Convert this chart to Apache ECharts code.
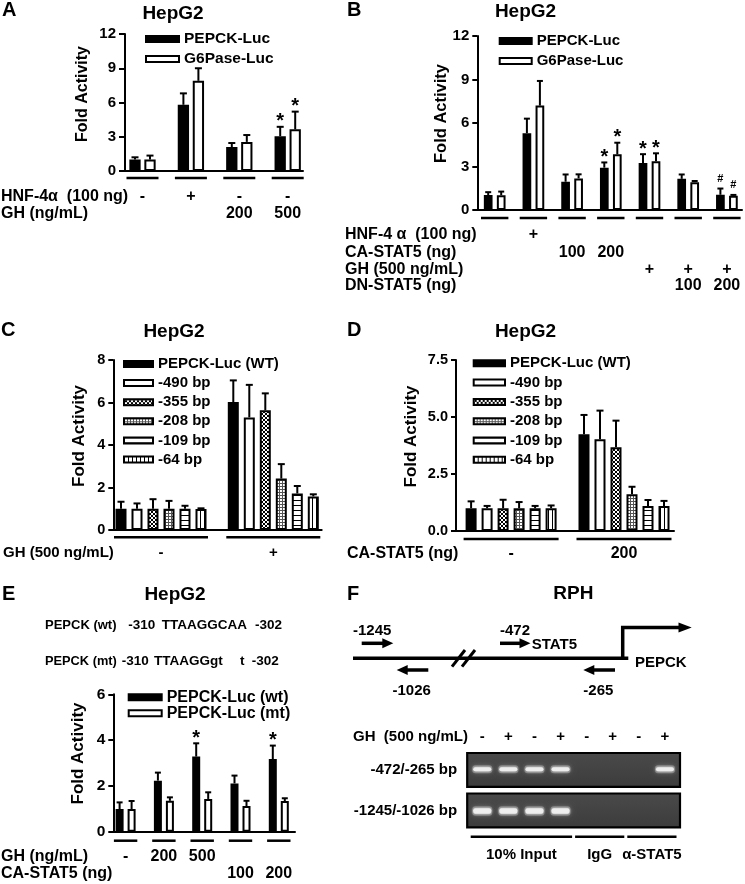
<!DOCTYPE html>
<html>
<head>
<meta charset="utf-8">
<title>PEPCK / STAT5 figure</title>
<script src="https://cdn.jsdelivr.net/npm/echarts@6.0.0/dist/echarts.min.js"></script>
<style>
html,body{margin:0;padding:0;background:#fff;}
#chart{width:745px;height:884px;}
</style>
</head>
<body>
<div id="chart"></div>
<script>
// ======================= DATA =======================
// ---- Panel A ----
const aTicks = [0, 3, 6, 9, 12];
const aPepck = [1.0, 5.8, 2.1, 3.05];
const aPepckErr = [0.2, 1.0, 0.35, 0.82];
const aPepckSig = ['', '', '', '*'];
const aG6pase = [1.0, 7.9, 2.55, 3.65];
const aG6paseErr = [0.35, 1.1, 0.6, 1.55];
const aG6paseSig = ['', '', '', '*'];
const aRowTitles = ['HNF-4α  (100 ng)', 'GH (ng/mL)'];
const aRowHnf = ['-', '+', '-', '-'];
const aRowGh = ['', '', '200', '500'];

// ---- Panel B ----
const bTicks = [0, 3, 6, 9, 12];
const bPepck = [1.03, 5.3, 1.95, 2.92, 3.25, 2.15, 1.05];
const bPepckErr = [0.2, 1.0, 0.5, 0.36, 0.6, 0.3, 0.43];
const bPepckSig = ['', '', '', '*', '*', '', '#'];
const bG6pase = [1.02, 7.2, 2.18, 3.84, 3.36, 1.92, 0.99];
const bG6paseErr = [0.25, 1.7, 0.28, 0.8, 0.55, 0.08, 0.05];
const bG6paseSig = ['', '', '', '*', '*', '', '#'];
const bRowTitles = ['HNF-4 α  (100 ng)', 'CA-STAT5 (ng)', 'GH (500 ng/mL)', 'DN-STAT5 (ng)'];
const bRowHnf = ['', '+', '', '', '', '', ''];
const bRowCa = ['', '', '100', '200', '', '', ''];
const bRowGh = ['', '', '', '', '+', '+', '+'];
const bRowDn = ['', '', '', '', '', '100', '200'];

// ---- Panels C / D : promoter deletion constructs ----
const promoterNames = ['PEPCK-Luc (WT)', '-490 bp', '-355 bp', '-208 bp', '-109 bp', '-64 bp'];
// Panel C (GH -, GH +)
const cTicks = [0, 2, 4, 6, 8];
const cWT = [1.0, 6.02],   cWTErr = [0.33, 1.02];
const c490 = [1.0, 5.3],   c490Err = [0.25, 1.53];
const c355 = [1.0, 5.63],  c355Err = [0.45, 0.8];
const c208 = [1.0, 2.42],  c208Err = [0.37, 0.68];
const c109 = [1.0, 1.72],  c109Err = [0.14, 0.35];
const c64 = [0.99, 1.58],  c64Err = [0.03, 0.1];
const cRowTitles = ['GH (500 ng/mL)'];
const cRowGh = ['-', '+'];
// Panel D (CA-STAT5 -, 200)
const dTicks = [0, 2.5, 5, 7.5];
const dTickLabels = ['0.0', '2.5', '5.0', '7.5'];
const dWT = [1.0, 4.24],   dWTErr = [0.3, 0.85];
const d490 = [1.0, 4.02],  d490Err = [0.1, 1.26];
const d355 = [1.0, 3.67],  d355Err = [0.37, 1.17];
const d208 = [1.0, 1.61],  d208Err = [0.27, 0.33];
const d109 = [1.0, 1.1],   d109Err = [0.1, 0.26];
const d64 = [1.0, 1.1],    d64Err = [0.12, 0.22];
const dRowTitles = ['CA-STAT5 (ng)'];
const dRowCa = ['-', '200'];

// ---- Panel E ----
const eTicks = [0, 2, 4, 6];
const eWt = [0.99, 2.23, 3.28, 2.11, 3.17];
const eWtErr = [0.29, 0.35, 0.58, 0.34, 0.59];
const eWtSig = ['', '', '*', '', '*'];
const eMt = [0.99, 1.35, 1.43, 1.12, 1.34];
const eMtErr = [0.35, 0.15, 0.29, 0.23, 0.12];
const eMtSig = ['', '', '', '', ''];
const eRowTitles = ['GH (ng/mL)', 'CA-STAT5 (ng)'];
const eRowGh = ['-', '200', '500', '', ''];
const eRowCa = ['', '', '', '100', '200'];
const eSeqWt = ['PEPCK (wt)', '-310', 'TTAAGGCAA', '-302'];
const eSeqMt = ['PEPCK (mt)', '-310', 'TTAAGGgt', 't', '-302'];

// ---- Panel F (ChIP, RPH) ----
const gelLanes = ['L1', 'L2', 'L3', 'L4', 'L5', 'L6', 'L7', 'L8'];
const gelGh = ['-', '+', '-', '+', '-', '+', '-', '+'];
const gelRows = ['-472/-265 bp', '-1245/-1026 bp'];
const gelBand472 = [1, 1, 1, 1, 0, 0, 0, 1];
const gelBand1245 = [1, 1, 1, 1, 0, 0, 0, 0];
const gelGroups = ['10% Input', 'IgG', 'α-STAT5'];
const gelGroupLanes = [[0, 3], [4, 5], [6, 7]];
const fPrimers = ['-1245', '-1026', '-472', '-265'];

// ======================= STYLE HELPERS =======================
const FF = '"Liberation Sans", Arial, Helvetica, sans-serif';
function font(size) { return 'bold ' + size + 'px ' + FF; }
function pat(w, h, draw) {
  const c = document.createElement('canvas');
  c.width = w; c.height = h;
  const g = c.getContext('2d');
  g.fillStyle = '#fff'; g.fillRect(0, 0, w, h);
  g.fillStyle = '#000';
  draw(g);
  return { image: c, repeat: 'repeat' };
}
const patCheck = pat(4, 4, g => { for (let i = 0; i < 4; i++) { g.fillRect(i, i, 1, 1); g.fillRect(3 - i, i, 1, 1); } });
const patGrid = pat(3, 3, g => { g.fillStyle = '#555'; g.fillRect(0, 0, 3, 1); g.fillRect(0, 0, 1, 3); });
const patH = pat(4, 5, g => { g.fillRect(0, 0, 4, 1); });
const patV = pat(4, 4, g => { g.fillRect(0, 0, 1, 4); });
const promoterFills = ['#000', '#fff', patCheck, patGrid, patH, patV];
const sixOffsets = [-40, -24, -8, 8, 24, 40];

const option = {
  animation: false,
  backgroundColor: '#fff',
  grid: [], xAxis: [], yAxis: [], series: [], legend: [],
  graphic: { elements: [] }
};

function txt(text, x, y, size, align, vAlign) {
  return { type: 'text', x: x, y: y, silent: true, z: 10,
    style: { text: text, font: font(size), fill: '#000', align: align || 'left', verticalAlign: vAlign || 'middle' } };
}

function addBarPanel(P) {
  const k = option.grid.length;
  option.grid.push({ left: P.x0, top: P.yTop, width: P.x1 - P.x0, height: P.y0 - P.yTop, containLabel: false, outerBoundsMode: 'none' });
  option.xAxis.push({
    gridIndex: k, type: 'value', min: (P.x0 - P.c0) / P.pitch, max: (P.x1 - P.c0) / P.pitch,
    axisLine: { show: true, onZero: false, lineStyle: { color: '#000', width: 2 } },
    axisTick: { show: false }, axisLabel: { show: false }, splitLine: { show: false }
  });
  const interval = P.ticks[1] - P.ticks[0];
  option.yAxis.push({
    gridIndex: k, type: 'value', min: P.ticks[0], max: P.ticks[P.ticks.length - 1], interval: interval,
    axisLine: { show: true, onZero: false, lineStyle: { color: '#000', width: 2 } },
    axisTick: { show: true, inside: false, length: P.tickLen, lineStyle: { color: '#000', width: 2 } },
    axisLabel: { show: true, margin: P.labelMargin, color: '#000', fontFamily: FF, fontWeight: 'bold', fontSize: P.tickFont,
      formatter: function (v) { const i = Math.round((v - P.ticks[0]) / interval); return P.tickLabels ? P.tickLabels[i] : String(P.ticks[i]); } },
    splitLine: { show: false },
    name: 'Fold Activity', nameLocation: 'middle', nameRotate: 90, nameGap: P.nameGap, nameMoveOverlap: false,
    nameTextStyle: { color: '#000', fontFamily: FF, fontWeight: 'bold', fontSize: P.nameFont, padding: [0, 0, 0, P.namePad] }
  });
  P.series.forEach(function (s, si) {
    const off = s.off / P.pitch;
    option.series.push({
      type: 'bar', name: s.name, xAxisIndex: k, yAxisIndex: k, barWidth: P.barW - 2, barGap: '-100%',
      silent: true, z: 2, emphasis: { disabled: true },
      itemStyle: { color: s.fill, borderColor: '#000', borderWidth: 2 },
      data: s.vals.map(function (v, i) { return [i + off, v]; })
    });
    option.series.push({
      type: 'custom', name: '_err_' + k + '_' + si, xAxisIndex: k, yAxisIndex: k, silent: true, z: 4,
      data: s.vals.map(function (v, i) { return [i + off, v, s.errs[i]]; }),
      encode: { x: 0, y: 1 },
      renderItem: function (params, api) {
        const x = api.value(0), v = api.value(1), e = api.value(2);
        const p0 = api.coord([x, v]), p1 = api.coord([x, v + e]);
        const ch = [
          { type: 'line', shape: { x1: p0[0], y1: p0[1], x2: p1[0], y2: p1[1] }, style: { stroke: '#000', lineWidth: 2 } },
          { type: 'line', shape: { x1: p1[0] - P.cap, y1: p1[1], x2: p1[0] + P.cap, y2: p1[1] }, style: { stroke: '#000', lineWidth: 2 } }
        ];
        const sg = s.sig ? s.sig[params.dataIndex] : '';
        if (sg) {
          ch.push({ type: 'text', x: p1[0], y: p1[1] + (sg === '*' ? -5 : -10),
            style: { text: sg, font: font(sg === '*' ? 20 : 11), fill: '#000', align: 'center', verticalAlign: 'middle' } });
        }
        return { type: 'group', children: ch };
      }
    });
  });
  const nGroups = P.series[0].vals.length;
  option.series.push({
    type: 'custom', name: '_anno_' + k, xAxisIndex: k, yAxisIndex: k, silent: true, z: 4,
    data: Array.from({ length: nGroups }, function (_, i) { return [i, 0]; }),
    encode: { x: 0, y: 1 },
    renderItem: function (params, api) {
      const i = params.dataIndex;
      const c = api.coord([i, 0]);
      const ch = [{ type: 'line', shape: { x1: c[0] - P.ulHw, y1: c[1] + P.ulDy, x2: c[0] + P.ulHw, y2: c[1] + P.ulDy },
        style: { stroke: '#000', lineWidth: 2.5 } }];
      P.rows.forEach(function (r) {
        if (r.vals[i]) ch.push({ type: 'text', x: c[0], y: c[1] + r.dy,
          style: { text: r.vals[i], font: font(P.rowFont), fill: '#000', align: 'center', verticalAlign: 'middle' } });
      });
      return { type: 'group', children: ch };
    }
  });
  const L = P.legend;
  option.legend.push({
    show: true, orient: 'vertical', left: L.left, top: L.top, padding: 0, itemWidth: L.w, itemHeight: L.h, itemGap: L.gap,
    icon: 'rect', selectedMode: false, data: P.series.map(function (s) { return s.name; }),
    itemStyle: { borderColor: '#000', borderWidth: 2 },
    textStyle: { color: '#000', fontFamily: FF, fontWeight: 'bold', fontSize: L.font, lineHeight: L.lh }
  });
}

// ---- Panel A ----
addBarPanel({
  x0: 125, x1: 303, yTop: 34, y0: 171, ticks: aTicks, tickFont: 15, tickLen: 6, labelMargin: 9,
  c0: 142.5, pitch: 48.4, barW: 13.3, cap: 3.5,
  series: [
    { name: 'PEPCK-Luc', vals: aPepck, errs: aPepckErr, sig: aPepckSig, fill: '#000', off: -7.5 },
    { name: 'G6Pase-Luc', vals: aG6pase, errs: aG6paseErr, sig: aG6paseSig, fill: '#fff', off: 7.5 }
  ],
  rows: [{ vals: aRowHnf, dy: 26 }, { vals: aRowGh, dy: 42.5 }], rowFont: 16,
  ulHw: 16, ulDy: 7, nameFont: 16, nameGap: 34, namePad: 17,
  legend: { left: 145, top: 31, w: 33, h: 6, gap: 4, lh: 16, font: 15.5 }
});
// ---- Panel B ----
addBarPanel({
  x0: 477.3, x1: 742, yTop: 36, y0: 210, ticks: bTicks, tickFont: 15, tickLen: 5, labelMargin: 8,
  c0: 494.7, pitch: 38.7, barW: 10.7, cap: 3,
  series: [
    { name: 'PEPCK-Luc', vals: bPepck, errs: bPepckErr, sig: bPepckSig, fill: '#000', off: -6.5 },
    { name: 'G6Pase-Luc', vals: bG6pase, errs: bG6paseErr, sig: bG6paseSig, fill: '#fff', off: 6.5 }
  ],
  rows: [{ vals: bRowHnf, dy: 25 }, { vals: bRowCa, dy: 42.3 }, { vals: bRowGh, dy: 59.3 }, { vals: bRowDn, dy: 76 }], rowFont: 16,
  ulHw: 13.7, ulDy: 8, nameFont: 16.5, nameGap: 27.5, namePad: 19,
  legend: { left: 498.7, top: 33, w: 32, h: 6, gap: 4, lh: 16, font: 15 }
});
// ---- Panel C ----
const cVals = [cWT, c490, c355, c208, c109, c64];
const cErrs = [cWTErr, c490Err, c355Err, c208Err, c109Err, c64Err];
addBarPanel({
  x0: 113.3, x1: 321.7, yTop: 360, y0: 530, ticks: cTicks, tickFont: 14.5, tickLen: 5, labelMargin: 8,
  c0: 161, pitch: 112.3, barW: 13, cap: 3.5,
  series: promoterNames.map(function (n, i) { return { name: n, vals: cVals[i], errs: cErrs[i], fill: promoterFills[i], off: sixOffsets[i] }; }),
  rows: [{ vals: cRowGh, dy: 23.3 }], rowFont: 15,
  ulHw: 47, ulDy: 7.3, nameFont: 17, nameGap: 25, namePad: 18,
  legend: { left: 123, top: 356, w: 29, h: 6, gap: 3.1, lh: 16, font: 15 }
});
// ---- Panel D ----
const dVals = [dWT, d490, d355, d208, d109, d64];
const dErrs = [dWTErr, d490Err, d355Err, d208Err, d109Err, d64Err];
addBarPanel({
  x0: 456, x1: 674, yTop: 360, y0: 531, ticks: dTicks, tickLabels: dTickLabels, tickFont: 14.5, tickLen: 5, labelMargin: 8,
  c0: 511.1, pitch: 112.9, barW: 13, cap: 3.5,
  series: promoterNames.map(function (n, i) { return { name: n, vals: dVals[i], errs: dErrs[i], fill: promoterFills[i], off: sixOffsets[i] }; }),
  rows: [{ vals: dRowCa, dy: 22.3 }], rowFont: 16,
  ulHw: 47.5, ulDy: 8, nameFont: 17, nameGap: 36, namePad: 18,
  legend: { left: 472.7, top: 355.3, w: 31.3, h: 6, gap: 3.3, lh: 16, font: 15 }
});
// ---- Panel E ----
addBarPanel({
  x0: 113.3, x1: 295, yTop: 694.3, y0: 831.7, ticks: eTicks, tickFont: 15.5, tickLen: 5, labelMargin: 8,
  c0: 125.6, pitch: 38.3, barW: 10, cap: 3,
  series: [
    { name: 'PEPCK-Luc (wt)', vals: eWt, errs: eWtErr, sig: eWtSig, fill: '#000', off: -6 },
    { name: 'PEPCK-Luc (mt)', vals: eMt, errs: eMtErr, sig: eMtSig, fill: '#fff', off: 6 }
  ],
  rows: [{ vals: eRowGh, dy: 25 }, { vals: eRowCa, dy: 41.6 }], rowFont: 16,
  ulHw: 11.7, ulDy: 9, nameFont: 17, nameGap: 26, namePad: 19,
  legend: { left: 127.7, top: 689.3, w: 33, h: 6, gap: 0, lh: 16, font: 16 }
});

// ---- Panel F gel (grid index 5) ----
const gk = option.grid.length;
option.grid.push({ left: 469.2, top: 749.7, width: 208.8, height: 81, containLabel: false, outerBoundsMode: 'none' });
option.xAxis.push({
  gridIndex: gk, type: 'category', data: gelLanes, position: 'top',
  axisLine: { show: false }, axisTick: { show: false }, splitLine: { show: false },
  axisLabel: { show: true, margin: 5, color: '#000', fontFamily: FF, fontWeight: 'bold', fontSize: 15, interval: 0,
    formatter: function (v, i) { return gelGh[i]; } }
});
option.yAxis.push({
  gridIndex: gk, type: 'category', data: gelRows, inverse: true,
  axisLine: { show: false }, axisTick: { show: false }, splitLine: { show: false },
  axisLabel: { show: true, margin: 12, color: '#000', fontFamily: FF, fontWeight: 'bold', fontSize: 15 }
});
option.series.push({
  type: 'custom', name: '_gelbox', xAxisIndex: gk, yAxisIndex: gk, silent: true, z: 2,
  data: gelRows.map(function (r, i) { return [0, i]; }), encode: { x: 0, y: 1 },
  renderItem: function (params, api) {
    const cs = params.coordSys;
    const c = api.coord([0, api.value(1)]);
    const h = api.size([0, 1])[1];
    return { type: 'rect', shape: { x: cs.x - 2, y: c[1] - h / 2 + 3.3, width: cs.width + 4, height: h - 6.6 },
      style: { fill: { type: 'linear', x: 0, y: 0, x2: 0, y2: 1, colorStops: [{ offset: 0, color: '#4a4a4a' }, { offset: 1, color: '#3c3c3c' }] },
        stroke: '#000', lineWidth: 2.2 } };
  }
});
const bandData = [];
[gelBand472, gelBand1245].forEach(function (row, r) { row.forEach(function (v, l) { if (v > 0) bandData.push([l, r, v]); }); });
option.series.push({
  type: 'custom', name: '_bands', xAxisIndex: gk, yAxisIndex: gk, silent: true, z: 3,
  data: bandData, encode: { x: 0, y: 1 },
  renderItem: function (params, api) {
    const r = api.value(1), inten = api.value(2);
    const c = api.coord([api.value(0), r]);
    const bh = r === 0 ? 4 : 5.5;
    const cy = c[1] + (r === 0 ? -0.8 : 0.5);
    return { type: 'group', children: [
      { type: 'rect', shape: { x: c[0] - 10, y: cy - bh / 2 - 2, width: 20, height: bh + 4, r: 3 },
        style: { fill: 'rgba(200,200,200,' + (0.35 * inten) + ')', shadowBlur: 5, shadowColor: 'rgba(255,255,255,0.5)' } },
      { type: 'rect', shape: { x: c[0] - 9, y: cy - bh / 2, width: 18, height: bh, r: 2 },
        style: { fill: 'rgba(240,240,240,' + (0.92 * inten) + ')', shadowBlur: 3, shadowColor: 'rgba(255,255,255,0.8)' } }
    ] };
  }
});
option.series.push({
  type: 'custom', name: '_gelgroups', xAxisIndex: gk, yAxisIndex: gk, silent: true, z: 3,
  data: gelGroupLanes.map(function (g) { return [g[0], 0]; }), encode: { x: 0, y: 1 },
  renderItem: function (params, api) {
    const g = gelGroupLanes[params.dataIndex];
    const cs = params.coordSys;
    const w = api.size([1, 0])[0];
    const xa = api.coord([g[0], 0])[0] - w / 2 + 1.5;
    const xb = api.coord([g[1], 0])[0] + w / 2 - 1.5;
    const y = cs.y + cs.height + 6;
    return { type: 'group', children: [
      { type: 'line', shape: { x1: xa, y1: y, x2: xb, y2: y }, style: { stroke: '#000', lineWidth: 2.5 } },
      { type: 'text', x: (xa + xb) / 2, y: y + 18.5, style: { text: gelGroups[params.dataIndex], font: font(15), fill: '#000', align: 'center', verticalAlign: 'middle' } }
    ] };
  }
});

// ======================= TEXT & DIAGRAM =======================
const G = option.graphic.elements;
// panel letters
[['A', 2, 10], ['B', 347, 10], ['C', 1, 330], ['D', 347, 330], ['E', 2, 594], ['F', 347, 594]].forEach(function (a) { G.push(txt(a[0], a[1], a[2], 20)); });
// titles
[['HepG2', 173, 14], ['HepG2', 525.5, 12], ['HepG2', 174, 331.5], ['HepG2', 525.5, 331.5], ['HepG2', 175, 595], ['RPH', 573.3, 594]].forEach(function (t) { G.push(txt(t[0], t[1], t[2], 19, 'center')); });
// row titles
G.push(txt(aRowTitles[0], 1, 197, 16)); G.push(txt(aRowTitles[1], 1, 213.5, 16));
[235, 252.3, 269.3, 286].forEach(function (y, i) { G.push(txt(bRowTitles[i], 345, y, 16)); });
G.push(txt(cRowTitles[0], 3, 553.3, 15));
G.push(txt(dRowTitles[0], 347, 553.3, 16));
G.push(txt(eRowTitles[0], 1, 856.7, 16)); G.push(txt(eRowTitles[1], 1, 873.3, 16));
// sequences (E)
[45, 128.3, 161.7, 255].forEach(function (x, i) { G.push(txt(eSeqWt[i], x, 625, i === 0 ? 13 : 13.5)); });
[45, 121.7, 154, 240, 251.7].forEach(function (x, i) { G.push(txt(eSeqMt[i], x, 661.7, i === 0 ? 12.8 : 13.5)); });
// gel GH label
G.push(txt('GH  (500 ng/mL)', 353, 736.7, 15));

// promoter diagram (F)
function seg(x1, y1, x2, y2, w) { return { type: 'line', silent: true, z: 10, shape: { x1: x1, y1: y1, x2: x2, y2: y2 }, style: { stroke: '#000', lineWidth: w || 3.5 } }; }
function head(pts) { return { type: 'polygon', silent: true, z: 10, shape: { points: pts }, style: { fill: '#000' } }; }
function arrowR(x1, x2, y) { G.push(seg(x1, y, x2 - 8, y)); G.push(head([[x2 - 11, y - 5], [x2, y], [x2 - 11, y + 5]])); }
function arrowL(x1, x2, y) { G.push(seg(x1 + 8, y, x2, y)); G.push(head([[x1 + 11, y - 5], [x1, y], [x1 + 11, y + 5]])); }
G.push(seg(353, 658.3, 628.3, 658.3));
G.push(seg(452, 666.7, 465, 650, 3));
G.push(seg(462, 666.7, 475, 650, 3));
arrowR(361.7, 393.3, 643.3);
arrowR(500, 530.5, 643.3);
arrowL(396.7, 428.3, 670);
arrowL(583.3, 615, 670);
G.push({ type: 'polyline', silent: true, z: 10, shape: { points: [[622.7, 658.3], [622.7, 627.5], [681, 627.5]] }, style: { stroke: '#000', lineWidth: 3.5, fill: null } });
G.push(head([[678.5, 622.5], [691.7, 627.5], [678.5, 632.5]]));
G.push(txt(fPrimers[0], 353, 630.5, 15));
G.push(txt(fPrimers[2], 500, 630.5, 15));
G.push(txt('STAT5', 531.7, 645, 15));
G.push(txt(fPrimers[1], 411.7, 690.8, 15, 'center'));
G.push(txt(fPrimers[3], 598.3, 690.8, 15, 'center'));
G.push(txt('PEPCK', 635, 662.5, 15));

const chart = echarts.init(document.getElementById('chart'), null, { renderer: 'canvas', width: 745, height: 884 });
chart.setOption(option);
</script>
</body>
</html>
